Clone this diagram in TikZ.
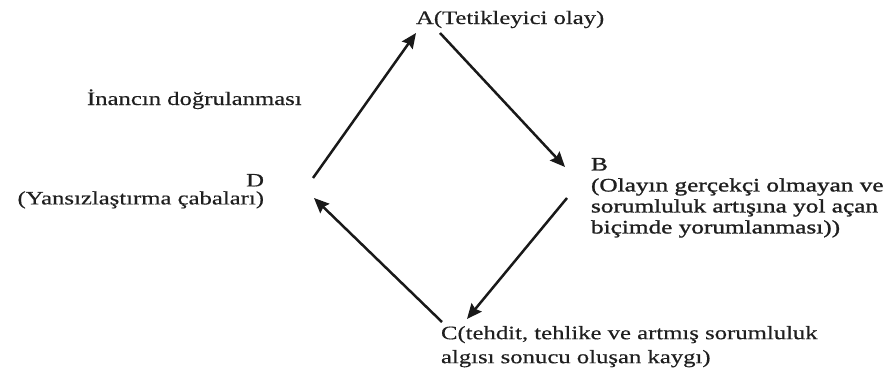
\documentclass[tikz,border=0pt]{standalone}
\usepackage{fontspec}
\setmainfont{Liberation Serif}
\newfontfamily\widefont[FakeStretch=1.3,FakeBold=0.4]{Liberation Serif}
\newfontfamily\widerfont[FakeStretch=1.33,FakeBold=1.3]{Liberation Serif}
\usetikzlibrary{arrows.meta}
\begin{document}
\begin{tikzpicture}[x=1pt,y=-1pt,
  lbl/.style={inner sep=0pt, outer sep=0pt, text=black!88},
  txt/.style={lbl, font=\widefont\fontsize{19}{21}\selectfont},
  flow/.style={line width=2.5pt, draw=black!90, -{Stealth[length=15pt,width=13pt,inset=2pt]}}]
\useasboundingbox (0,0) rectangle (886,372);

% labels
\node[txt, anchor=base west] (A) at (416,24) {A(Tetikleyici olay)};
\node[txt, anchor=base west] (I) at (87,105) {İnancın doğrulanması};
\node[txt, anchor=north west, align=left, font=\widerfont\fontsize{19}{21}\selectfont] (B) at (591,158)
  {B\\(Olayın gerçekçi olmayan ve\\sorumluluk artışına yol açan\\biçimde yorumlanması))};
\node[txt, anchor=north west, align=left, font=\widefont\fontsize{19}{24}\selectfont] (C) at (441,326)
  {C(tehdit, tehlike ve artmış sorumluluk\\algısı sonucu oluşan kaygı)};
\node[txt, anchor=north east, align=right, font=\widefont\fontsize{19}{18}\selectfont] (D) at (264,174)
  {D\\(Yansızlaştırma çabaları)};

% connector end points
\coordinate (dOut) at (313,178);
\coordinate (aIn)  at (416,33);
\coordinate (aOut) at (440,33);
\coordinate (bIn)  at (565,167);
\coordinate (bOut) at (567,198);
\coordinate (cIn)  at (467,319);
\coordinate (cOut) at (442,322);
\coordinate (dIn)  at (314,198);

\draw[flow] (dOut) -- (aIn);
\draw[flow] (aOut) -- (bIn);
\draw[flow] (bOut) -- (cIn);
\draw[flow] (cOut) -- (dIn);
\end{tikzpicture}
\end{document}
